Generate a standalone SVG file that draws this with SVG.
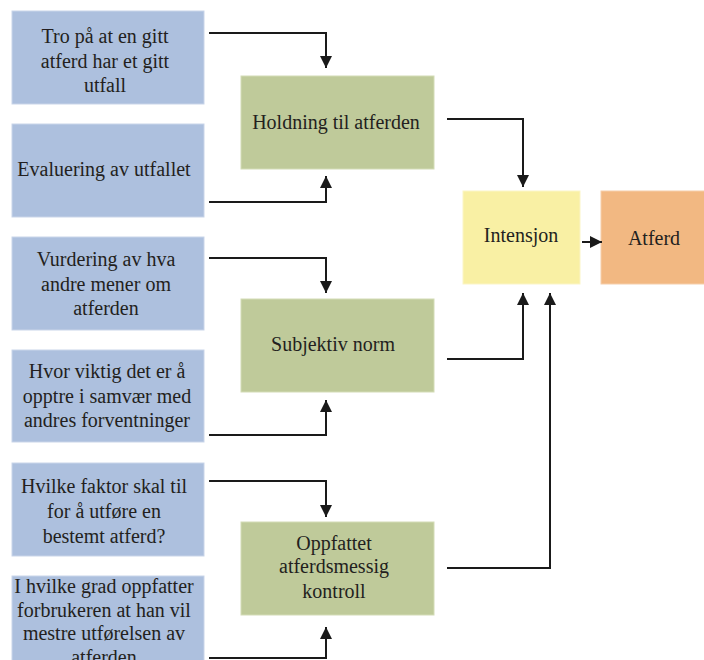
<svg xmlns="http://www.w3.org/2000/svg" width="704" height="660" viewBox="0 0 704 660">
<style>
text{font-family:"Liberation Serif","DejaVu Serif",serif;font-size:20px;fill:#231f20;text-anchor:middle}
.blue{fill:#adc0de;stroke:#c9d5e9;stroke-width:1}
.green{fill:#bfca9a;stroke:#d3dcb6;stroke-width:1}
.yellow{fill:#f9f0a4;stroke:#fbf5c6;stroke-width:1}
.orange{fill:#f2b882;stroke:#f6ceaa;stroke-width:1}
.c{fill:none;stroke:#1a1a1a;stroke-width:2;marker-end:url(#ah)}
</style>
<defs>
<marker id="ah" markerUnits="userSpaceOnUse" markerWidth="12" markerHeight="12" viewBox="0 0 12 12" refX="12" refY="6" orient="auto">
<path d="M0,0 L12,6 L0,12 z" fill="#1a1a1a"/>
</marker>
</defs>
<rect width="704" height="660" fill="#ffffff"/>
<g id="b1"><rect class="blue" x="12" y="11" width="192" height="93"/>
<text x="105" y="43">Tro på at en gitt</text><text x="105" y="67.5">atferd har et gitt</text><text x="105" y="92">utfall</text></g>
<g id="b2"><rect class="blue" x="12" y="124" width="192" height="93"/>
<text x="104" y="176">Evaluering av utfallet</text></g>
<g id="b3"><rect class="blue" x="12" y="237" width="192" height="93"/>
<text x="106" y="266">Vurdering av hva</text><text x="106" y="291">andre mener om</text><text x="106" y="315">atferden</text></g>
<g id="b4"><rect class="blue" x="12" y="350" width="192" height="92"/>
<text x="107" y="378">Hvor viktig det er å</text><text x="107" y="403">opptre i samvær med</text><text x="107" y="427">andres forventninger</text></g>
<g id="b5"><rect class="blue" x="12" y="463" width="192" height="93"/>
<text x="104" y="493">Hvilke faktor skal til</text><text x="104" y="518">for å utføre en</text><text x="104" y="543">bestemt atferd?</text></g>
<g id="b6"><rect class="blue" x="12" y="576" width="192" height="94"/>
<text x="104" y="593">I hvilke grad oppfatter</text><text x="104" y="617">forbrukeren at han vil</text><text x="104" y="640">mestre utførelsen av</text><text x="104" y="664">atferden</text></g>
<g id="holdning"><rect class="green" x="241" y="76" width="193" height="93"/>
<text x="336" y="129">Holdning til atferden</text></g>
<g id="subjektiv"><rect class="green" x="241" y="299" width="193" height="93"/>
<text x="333" y="351">Subjektiv norm</text></g>
<g id="oppfattet"><rect class="green" x="241" y="522" width="193" height="93"/>
<text x="334" y="550">Oppfattet</text><text x="334" y="573">atferdsmessig</text><text x="334" y="598">kontroll</text></g>
<g id="intensjon"><rect class="yellow" x="463" y="191" width="117" height="93"/>
<text x="521" y="242">Intensjon</text></g>
<g id="atferd"><rect class="orange" x="601" y="191" width="105" height="93"/>
<text x="654" y="245">Atferd</text></g>
<g id="connectors">
<path class="c" d="M209,33 H326 V68"/>
<path class="c" d="M209,202 H326 V176"/>
<path class="c" d="M209,258 H326 V293"/>
<path class="c" d="M209,435 H326 V400"/>
<path class="c" d="M209,481 H326 V517"/>
<path class="c" d="M209,658 H326 V627"/>
<path class="c" d="M447,119 H523 V187"/>
<path class="c" d="M447,359 H523 V293"/>
<path class="c" d="M447,568 H550 V293"/>
<path class="c" d="M582,242 H602"/>
</g>
</svg>
